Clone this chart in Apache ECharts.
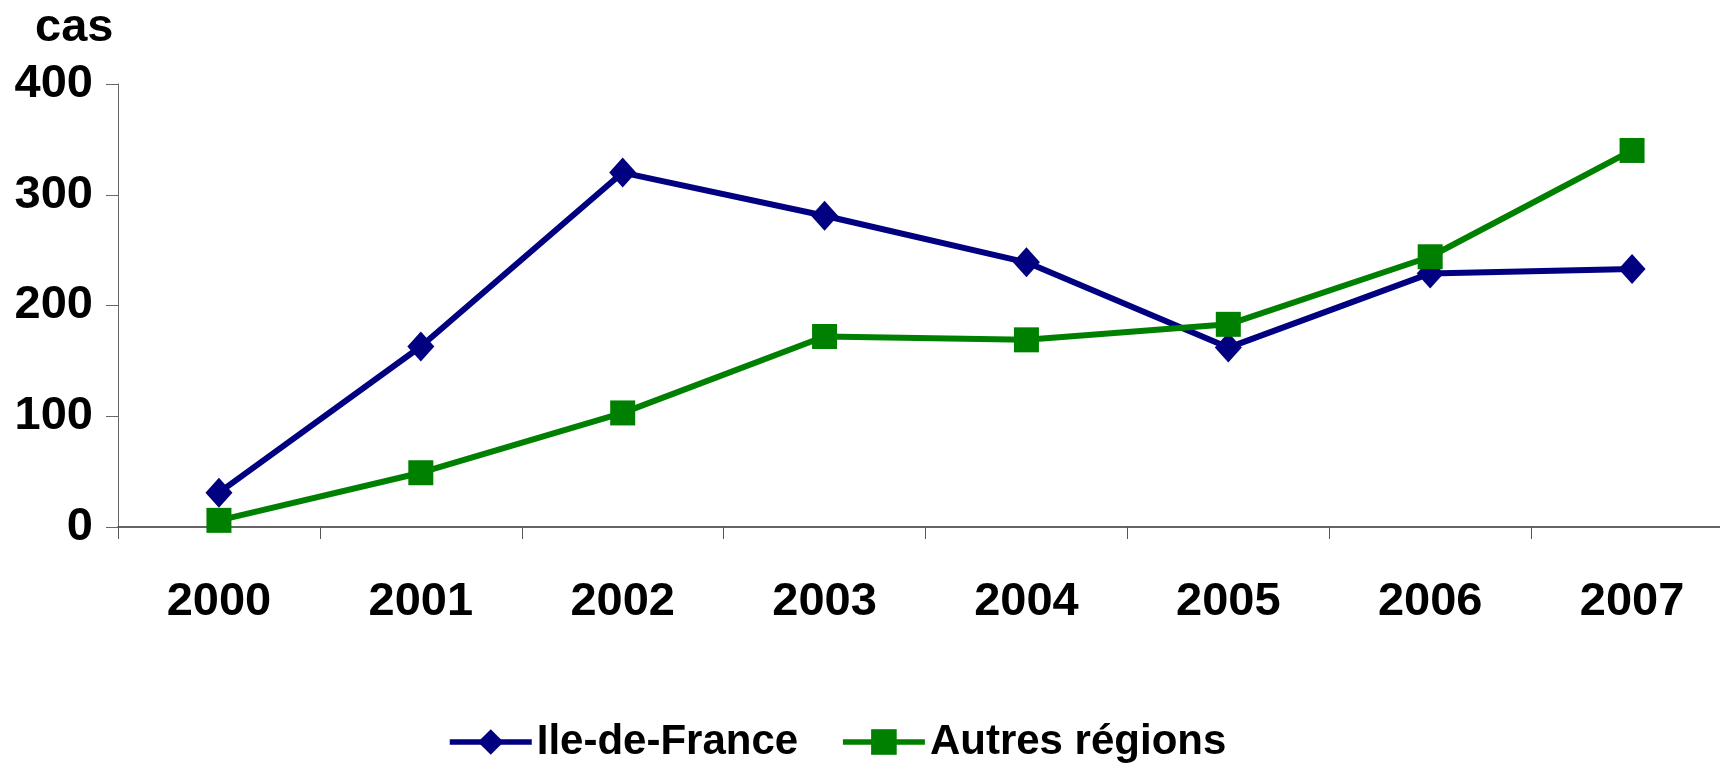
<!DOCTYPE html>
<html>
<head>
<meta charset="utf-8">
<script src="https://cdn.jsdelivr.net/npm/echarts@6/dist/echarts.min.js"></script>
<style>
  html, body { margin: 0; padding: 0; background: #fff; overflow: hidden; }
  /* le graphique d'origine déborde un peu à droite */
  #chart { width: 1733px; height: 763px; }
</style>
</head>
<body>
<div id="chart"></div>
<script>
// données
var annees = ['2000', '2001', '2002', '2003', '2004', '2005', '2006', '2007'];
var ileDeFrance = [31, 163, 320, 281, 239, 162, 229, 233];
var autresRegions = [6, 49, 103, 172, 169, 183, 244, 340];
var yTicks = [0, 100, 200, 300, 400];

var police = '"Liberation Sans", Arial, sans-serif';

var myChart = echarts.init(document.getElementById('chart'));

var option = {
    animation: false,
    title: {
        text: 'cas',
        left: 30,
        top: 0,
        textStyle: { fontFamily: police, fontWeight: 'bold', fontSize: 47, color: '#000' }
    },
    grid: {
        left: 118,
        right: 0,
        top: 84,
        bottom: 236,
        containLabel: false
    },
    legend: {
        left: 442,
        top: 716,
        itemWidth: 82,
        itemHeight: 32,
        itemGap: 42,
        lineStyle: { width: 5.5 },
        textStyle: { fontFamily: police, fontWeight: 'bold', fontSize: 42, color: '#000' },
        data: ['Ile-de-France', 'Autres régions']
    },
    xAxis: {
        type: 'category',
        data: annees,
        boundaryGap: true,
        axisLine: { lineStyle: { color: '#333', width: 1.5 } },
        axisTick: { show: true, length: 12, lineStyle: { color: '#555' } },
        axisLabel: {
            margin: 52,
            fontFamily: police, fontWeight: 'bold', fontSize: 47, color: '#000'
        }
    },
    yAxis: {
        type: 'value',
        min: yTicks[0],
        max: yTicks[yTicks.length - 1],
        interval: 100,
        splitLine: { show: false },
        axisLine: { show: true, lineStyle: { color: '#666', width: 1 } },
        axisTick: { show: true, length: 12, lineStyle: { color: '#666' } },
        axisLabel: {
            margin: 25,
            fontFamily: police, fontWeight: 'bold', fontSize: 47, color: '#000'
        }
    },
    series: [
        {
            name: 'Ile-de-France',
            type: 'line',
            data: ileDeFrance,
            symbol: 'diamond',
            symbolSize: [27, 30],
            lineStyle: { color: '#000080', width: 6 },
            itemStyle: { color: '#000080' }
        },
        {
            name: 'Autres régions',
            type: 'line',
            data: autresRegions,
            symbol: 'rect',
            symbolSize: 25,
            lineStyle: { color: '#008000', width: 6 },
            itemStyle: { color: '#008000' }
        }
    ]
};

myChart.setOption(option);
window.onresize = function () { myChart.resize(); };
</script>
</body>
</html>
